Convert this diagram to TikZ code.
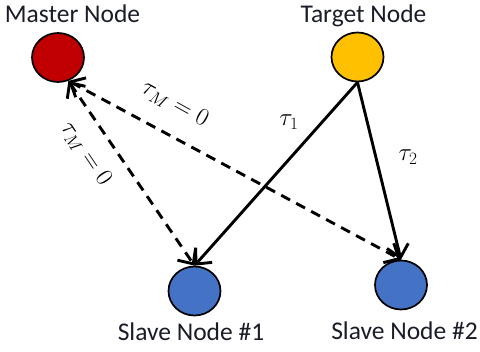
\documentclass[tikz,border=0pt]{standalone}
\usepackage{fontspec}
\setmainfont{Carlito}
\usetikzlibrary{arrows.meta,shapes.geometric}

\definecolor{masterred}{HTML}{C00000}
\definecolor{targetgold}{HTML}{FFC000}
\definecolor{slaveblue}{HTML}{4472C4}
\definecolor{labelink}{HTML}{1A1C28}

\tikzset{
  agent/.style={ellipse, draw=black, line width=1.7pt,
    minimum width=52pt, minimum height=49pt, inner sep=0pt},
  caption/.style={anchor=base, text=labelink, font=\fontsize{25.5}{30}\selectfont, inner sep=0pt},
  delay/.style={font=\fontsize{25}{29}\selectfont, inner sep=0pt},
  barb/.style={Straight Barb[length=12pt,width=22pt]},
  link/.style={line width=2.9pt, -{Straight Barb[length=12pt,width=22pt]}},
  sync/.style={line width=2.9pt, dash pattern=on 10pt off 7pt,
    {Straight Barb[length=12pt,width=22pt]}-{Straight Barb[length=12pt,width=22pt]}},
}

\begin{document}
\begin{tikzpicture}[x=1pt,y=-1pt]
  \useasboundingbox (0,0) rectangle (480,352);

  % nodes
  \node[agent, fill=masterred]  (master) at (58,57.5) {};
  \node[agent, fill=targetgold] (target) at (357.5,57) {};
  \node[agent, fill=slaveblue]  (s1)     at (194.5,291) {};
  \node[agent, fill=slaveblue]  (s2)     at (401,285) {};

  % captions
  \node[caption] (mcap) at (72.5,23)  {Master Node};
  \node[caption] (tcap) at (363.5,23) {Target Node};
  \node[caption] (s1cap) at (191,341) {Slave Node \#1};
  \node[caption] (s2cap) at (404.5,340) {Slave Node \#2};

  % synchronisation links from the master
  \draw[sync] (master.-66) -- (s1.north);
  \draw[sync] (master.-66) -- (s2.north);

  % propagation from the target
  \draw[link] (target.south) -- (s1.north);
  \draw[link] (target.south) -- (s2.north);

  % delay labels
  \node[delay, rotate=-29] (lm1) at (175,104) {$\tau_M = 0$};
  \node[delay, rotate=-56] (lm2) at (86,154)  {$\tau_M = 0$};
  \node[delay] (l1) at (289,122) {$\tau_1$};
  \node[delay] (l2) at (408,157) {$\tau_2$};
\end{tikzpicture}
\end{document}
